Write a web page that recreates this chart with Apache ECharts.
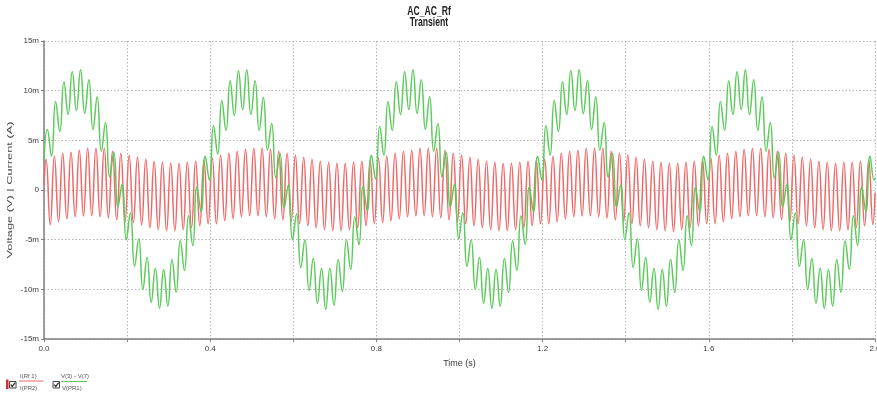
<!DOCTYPE html>
<html>
<head>
<meta charset="utf-8">
<script src="https://cdn.jsdelivr.net/npm/echarts@6/dist/echarts.min.js"></script>
<style>
html,body{margin:0;padding:0;background:#fff;}
#chart{width:877px;height:396px;}
</style>
</head>
<body>
<div id="chart"></div>
<script>
// ---- data (values in milli-units: mV / mA) ----
const titleLines = ['AC_AC_Rf', 'Transient'];
const xAxisTitle = 'Time (s)';
const yAxisTitle = 'Voltage (V) | Current (A)';
const xTickLabels = ['0.0', '0.4', '0.8', '1.2', '1.6', '2.0'];
const yTickLabels = ['-15m', '-10m', '-5m', '0', '5m', '10m', '15m'];
const legendNames = ['I(Rf 1)', 'I(PR2)', 'V(3) - V(7)', 'V(PR1)'];

// time of first extreme and spacing between successive extremes (s)
const sampleStep = 0.01;
const redStart = 0.005;
const greenStart = 0.008;
// values at t = 0 and t = 2.0
const redEdges = [0.5, -0.3];
const greenEdges = [3.0, 1.2];

// I(Rf 1): successive peaks / troughs
const redPeaks = [
  3.1,-3.5,3.4,-3.2,3.7,-2.9,3.8,-2.7,4.0,-2.6,4.2,-2.6,4.2,-2.7,4.2,-2.8,3.9,-3.0,3.7,-3.2,
  3.5,-3.3,3.3,-3.5,3.1,-3.8,2.9,-4.0,2.8,-4.1,2.7,-4.1,2.7,-4.0,2.8,-3.8,2.9,-3.6,3.0,-3.4,
  3.2,-3.4,3.5,-3.1,3.7,-2.9,3.9,-2.7,4.1,-2.6,4.2,-2.6,4.2,-2.7,4.1,-2.9,3.9,-3.0,3.7,-3.2,
  3.5,-3.4,3.3,-3.6,3.1,-3.8,2.9,-4.0,2.8,-4.1,2.7,-4.1,2.7,-4.0,2.8,-3.8,2.9,-3.6,3.0,-3.4,
  3.2,-3.3,3.4,-3.1,3.7,-2.9,3.9,-2.7,4.0,-2.6,4.2,-2.6,4.2,-2.7,4.2,-2.8,4.0,-3.0,3.7,-3.2,
  3.5,-3.4,3.3,-3.6,3.1,-3.8,2.9,-4.0,2.8,-4.1,2.7,-4.1,2.7,-4.0,2.8,-3.8,2.9,-3.6,3.0,-3.4,
  3.1,-3.4,3.4,-3.2,3.7,-2.9,3.9,-2.7,4.0,-2.6,4.2,-2.6,4.2,-2.7,4.2,-2.8,3.9,-3.0,3.7,-3.2,
  3.5,-3.4,3.3,-3.6,3.1,-3.8,2.9,-4.0,2.8,-4.1,2.7,-4.2,2.7,-4.0,2.8,-3.8,2.9,-3.6,3.0,-3.4,
  3.2,-3.4,3.5,-3.2,3.7,-2.9,3.9,-2.7,4.1,-2.6,4.2,-2.6,4.2,-2.7,4.1,-2.8,3.9,-3.0,3.7,-3.2,
  3.5,-3.4,3.3,-3.6,3.1,-3.8,2.9,-4.0,2.8,-4.1,2.7,-4.1,2.8,-4.0,2.8,-3.8,2.9,-3.6,3.0,-3.5
];

// V(3) - V(7): successive ripple peaks / troughs
const greenPeaks = [
  6.1,3.4,8.9,5.9,10.9,7.6,11.9,8.0,12.1,7.7,11.1,6.1,9.4,3.9,6.8,1.3,3.8,-1.7,0.6,-5.0,
  -2.3,-7.7,-4.9,-10.0,-6.8,-11.3,-7.9,-11.9,-8.0,-11.7,-7.0,-10.3,-5.1,-8.1,-2.6,-5.6,0.3,-2.2,3.4,1.0,
  6.5,3.6,9.0,6.0,11.0,7.5,12.0,8.1,12.1,7.6,11.0,6.0,9.3,4.0,6.7,1.2,3.7,-1.8,0.5,-5.0,
  -2.4,-7.8,-5.0,-10.1,-6.9,-11.4,-7.9,-12.0,-7.9,-11.6,-7.0,-10.2,-5.0,-8.0,-2.7,-5.5,0.4,-2.1,3.5,1.1,
  6.4,3.5,8.9,6.0,10.9,7.6,11.9,8.1,12.1,7.7,11.1,6.1,9.4,3.9,6.7,1.3,3.8,-1.7,0.6,-4.9,
  -2.3,-7.7,-5.0,-10.0,-6.8,-11.4,-7.9,-11.9,-8.0,-11.7,-6.9,-10.3,-5.1,-8.1,-2.6,-5.5,0.3,-2.2,3.4,1.0,
  6.5,3.5,9.0,5.9,10.9,7.6,12.0,8.0,12.1,7.7,11.0,6.1,9.4,4.0,6.8,1.3,3.7,-1.7,0.5,-5.0,
  -2.3,-7.8,-4.9,-10.1,-6.8,-11.3,-7.9,-12.0,-8.0,-11.7,-7.0,-10.3,-5.0,-8.1,-2.6,-5.6,0.3,-2.2,3.4,1.0,
  6.4,3.5,8.9,6.0,11.0,7.6,11.9,8.1,12.1,7.6,11.1,6.0,9.4,3.9,6.8,1.2,3.8,-1.7,0.6,-5.0,
  -2.3,-7.7,-5.0,-10.0,-6.9,-11.4,-7.9,-11.9,-8.0,-11.7,-7.0,-10.3,-5.1,-8.0,-2.6,-5.6,0.3,-2.2,3.4,1.0
];

// ---- build series data ----
function buildSeries(start, values, edges) {
  const out = [[0, edges[0]]];
  values.forEach((v, i) => out.push([+(start + i * sampleStep).toFixed(4), v]));
  out.push([2.0, edges[1]]);
  return out;
}
const redData = buildSeries(redStart, redPeaks, redEdges);
const greenData = buildSeries(greenStart, greenPeaks, greenEdges);

const RED = '#f06868';
const GREEN = '#5ccb5c';
const FONT = '"Liberation Sans", Arial, sans-serif';
const TXT = '#3a3a3a';

const chart = echarts.init(document.getElementById('chart'), null, {renderer: 'canvas'});

function checkbox(x, y) {
  return [
    {type: 'rect', shape: {x: x, y: y, width: 6.5, height: 6.5},
      style: {fill: '#fff', stroke: '#444', lineWidth: 1}},
    {type: 'polyline', shape: {points: [[x + 1.2, y + 3.2], [x + 2.8, y + 5], [x + 5.6, y + 1.2]]},
      style: {fill: null, stroke: '#222', lineWidth: 1.2}}
  ];
}

const legendGraphics = [].concat(
  [{type: 'rect', shape: {x: 6, y: 379.5, width: 2.5, height: 9.5}, style: {fill: '#d83030'}}],
  checkbox(9.5, 381.5),
  [
    {type: 'text', x: 20, y: 376, style: {text: legendNames[0], font: '6px ' + FONT, fill: '#555', verticalAlign: 'middle'}},
    {type: 'line', shape: {x1: 19, y1: 381, x2: 43.5, y2: 381}, style: {stroke: RED, lineWidth: 1}},
    {type: 'text', x: 20, y: 388, style: {text: legendNames[1], font: '6px ' + FONT, fill: '#555', verticalAlign: 'middle'}}
  ],
  checkbox(53, 381.5),
  [
    {type: 'text', x: 61, y: 376.5, style: {text: legendNames[2], font: '6px ' + FONT, fill: '#555', verticalAlign: 'middle'}},
    {type: 'line', shape: {x1: 61, y1: 381.5, x2: 87, y2: 381.5}, style: {stroke: GREEN, lineWidth: 1}},
    {type: 'text', x: 62, y: 388.5, style: {text: legendNames[3], font: '6px ' + FONT, fill: '#555', verticalAlign: 'middle'}}
  ]
);

const option = {
  animation: false,
  backgroundColor: '#fff',
  grid: {left: 44, right: 2, top: 41, bottom: 57, containLabel: false, outerBoundsMode: 'none'},
  graphic: [
    {type: 'text', x: 429, y: 12, scaleX: 0.72, scaleY: 1,
      style: {text: titleLines[0], font: 'bold 12px ' + FONT, fill: '#222', align: 'center', verticalAlign: 'middle'}},
    {type: 'text', x: 429, y: 23, scaleX: 0.72, scaleY: 1,
      style: {text: titleLines[1], font: 'bold 12px ' + FONT, fill: '#222', align: 'center', verticalAlign: 'middle'}},
    {type: 'text', x: 10, y: 190, rotation: Math.PI / 2, scaleX: 1.6, scaleY: 1,
      style: {text: yAxisTitle, font: '8px ' + FONT, fill: '#4a4a4a', align: 'center', verticalAlign: 'middle'}}
  ].concat(legendGraphics),
  xAxis: {
    type: 'value', min: 0, max: 2, interval: 0.2,
    name: xAxisTitle, nameLocation: 'middle', nameGap: 20,
    nameTextStyle: {fontFamily: FONT, fontSize: 9, color: TXT},
    axisLine: {show: true, onZero: false, lineStyle: {color: '#808080', width: 1.5}},
    axisTick: {show: true, length: 3, lineStyle: {color: '#808080'}},
    axisLabel: {
      fontFamily: FONT, fontSize: 8, color: TXT, margin: 6,
      formatter: function (v) {
        const idx = Math.round(v / 0.4 * 1000) / 1000;
        return Number.isInteger(idx) ? xTickLabels[idx] : '';
      }
    },
    splitLine: {show: true, lineStyle: {color: '#b4b4b4', type: [1.5, 2], width: 1}}
  },
  yAxis: {
    type: 'value', min: -15, max: 15, interval: 5,
    axisLine: {show: true, onZero: false, lineStyle: {color: '#808080', width: 1.5}},
    axisTick: {show: true, length: 3, lineStyle: {color: '#808080'}},
    axisLabel: {
      fontFamily: FONT, fontSize: 8, color: TXT, margin: 5,
      formatter: function (v) { return yTickLabels[Math.round((v + 15) / 5)]; }
    },
    splitLine: {show: true, lineStyle: {color: '#b4b4b4', type: [1.5, 2], width: 1}}
  },
  series: [
    {name: legendNames[0], type: 'line', data: redData, showSymbol: false, smooth: 0.5,
      lineStyle: {color: RED, width: 1.5}, itemStyle: {color: RED}},
    {name: legendNames[2], type: 'line', data: greenData, showSymbol: false, smooth: 0.5,
      lineStyle: {color: GREEN, width: 1.5}, itemStyle: {color: GREEN}}
  ]
};
chart.setOption(option);
</script>
</body>
</html>
